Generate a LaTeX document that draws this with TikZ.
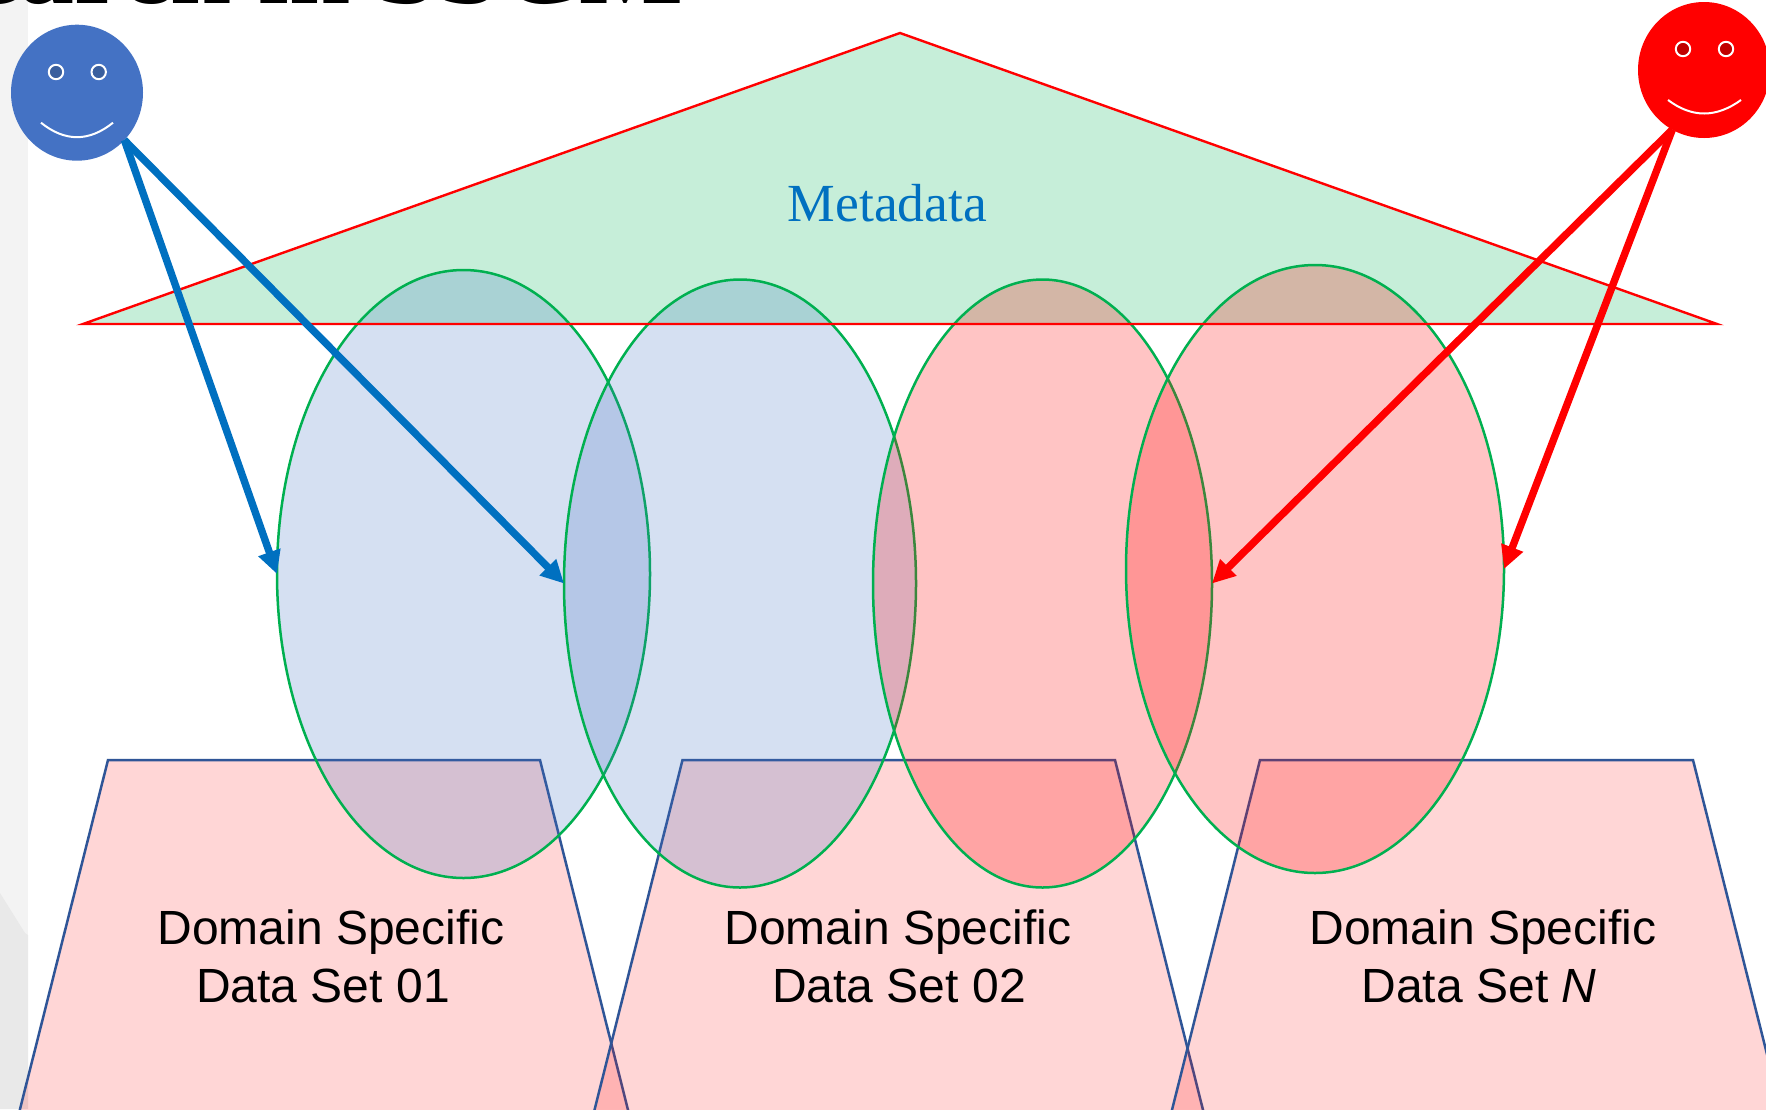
\documentclass[tikz,border=0pt]{standalone}
\usepackage{fontspec}
\setmainfont{Liberation Sans}
\newfontfamily\serifface{Liberation Serif}
\usetikzlibrary{shapes.geometric,arrows.meta}
\definecolor{stripA}{HTML}{F3F3F3}
\definecolor{stripB}{HTML}{E9E9E9}
\definecolor{triFill}{HTML}{C6EED9}
\definecolor{setGreen}{HTML}{00B050}
\definecolor{setBlue}{HTML}{4472C4}
\definecolor{trapLine}{HTML}{2F5597}
\definecolor{arrowBlue}{HTML}{0070C0}
\definecolor{eyeBlue}{HTML}{3A5F9E}
\definecolor{eyeRed}{HTML}{C00000}
\tikzset{
  setblob/.style={ellipse,draw=setGreen,line width=1.25pt,inner sep=0pt,outer sep=0pt},
  blueset/.style={setblob,fill=setBlue,fill opacity=0.22},
  redset/.style={setblob,fill=red,fill opacity=0.23},
  faceblob/.style={ellipse,inner sep=0pt,outer sep=0pt},
  eyeline/.style={draw=white,line width=1pt},
  smile/.style={draw=white,line width=1pt},
  trap/.style={draw=trapLine,line width=1.25pt,fill=red,fill opacity=0.16,draw opacity=1},
  tripath/.style={draw=red,line width=1.2pt},
  setlabel/.style={anchor=base,font=\fontsize{24}{24}\selectfont,inner sep=0pt},
  bluearrow/.style={draw=arrowBlue,line width=3.7pt,-{Triangle[length=11.5pt,width=11pt]}},
  redarrow/.style={draw=red,line width=3.7pt,-{Triangle[length=11.5pt,width=11pt]}},
}
\begin{document}
\begin{tikzpicture}[x=0.5pt,y=-0.5pt]
\useasboundingbox (0,0) rectangle (1766,1109);
\clip (0,0) rectangle (1766,1109);
\fill[white] (0,0) rectangle (1766,1109);
% left background strip
\fill[stripA] (0,0) rectangle (28,1109);
\fill[stripB] (0,893) -- (25,933) -- (28,935) -- (28,1109) -- (0,1109) -- cycle;
% clipped title
\node[anchor=base east,inner sep=0pt,font=\serifface\bfseries\fontsize{55}{55}\selectfont] (title) at (684,3) {earch in SSCM};
% metadata triangle
\fill[triFill] (900,33) -- (1717,324) -- (83,324) -- cycle;
% trapezoids (their lower ends run past the picture's edge)
\path[trap] (108,760) -- (540,760) -- (632.8,1129) -- (15,1129) -- cycle;
\path[trap] (682.5,760) -- (1115,760) -- (1207.8,1129) -- (589.7,1129) -- cycle;
\path[trap] (1260,760) -- (1693,760) -- (1785.8,1129) -- (1167.2,1129) -- cycle;
% sets
\node[blueset,minimum width=186.5pt,minimum height=304pt] (s1) at (463.5,574) {};
\node[blueset,minimum width=176pt,minimum height=304pt] (s2) at (740,583.5) {};
\node[redset,minimum width=169.5pt,minimum height=304pt] (s3) at (1042.5,583.5) {};
\node[redset,minimum width=189pt,minimum height=304pt] (s4) at (1315,569) {};
% triangle outline
\path[tripath] (900,33) -- (1717,324) -- (83,324) -- cycle;
\node[font=\serifface\fontsize{26.8}{27}\selectfont,text=arrowBlue,anchor=base,inner sep=0pt] (meta) at (887.5,221.5) {Metadata};
% labels
\node[setlabel] (l1a) at (331,944) {Domain Specific};
\node[setlabel] (l1b) at (323,1002) {Data Set 01};
\node[setlabel] (l2a) at (898,944) {Domain Specific};
\node[setlabel] (l2b) at (899,1002) {Data Set 02};
\node[setlabel] (l3a) at (1483,944) {Domain Specific};
\node[setlabel] (l3b) at (1479,1002) {Data Set \itshape N};
% blue face
\node[faceblob,fill=setBlue,minimum width=66pt,minimum height=68pt] (bf) at (77,92.7) {};
\node[circle,eyeline,fill=eyeBlue,minimum size=7.2pt,inner sep=0pt] (bf1) at (56,72) {};
\node[circle,eyeline,fill=eyeBlue,minimum size=7.2pt,inner sep=0pt] (bf2) at (98.7,72) {};
\draw[smile] (41,122.7) .. controls (65,142) and (89,142) .. (113,122.7);
% red face
\node[faceblob,fill=red,minimum width=66pt,minimum height=68pt] (rf) at (1704,70) {};
\node[circle,eyeline,fill=eyeRed,minimum size=7.2pt,inner sep=0pt] (rf1) at (1683,49) {};
\node[circle,eyeline,fill=eyeRed,minimum size=7.2pt,inner sep=0pt] (rf2) at (1726,49) {};
\draw[smile] (1668,100) .. controls (1692,118) and (1716,118) .. (1741,100);
% arrows
\draw[bluearrow] (bf.-45) -- (s1.west);
\draw[bluearrow] (bf.-45) -- (s2.west);
\draw[redarrow] (rf.-118) -- (s3.east);
\draw[redarrow] (rf.-118) -- (s4.east);
\end{tikzpicture}
\end{document}
